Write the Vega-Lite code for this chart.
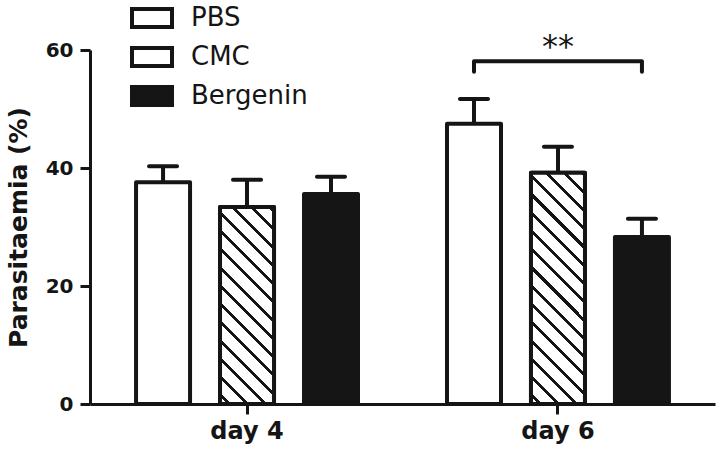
{
  "$schema": "https://vega.github.io/schema/vega-lite/v6.json",
  "width": 625,
  "height": 354,
  "autosize": "none",
  "padding": {"left": 90, "top": 50, "right": 9, "bottom": 53},
  "background": "white",
  "config": {
    "view": {"stroke": null},
    "font": "DejaVu Sans",
    "axis": {
      "domainColor": "#151515",
      "domainWidth": 3,
      "tickColor": "#151515",
      "tickWidth": 3,
      "tickSize": 10,
      "grid": false,
      "labelColor": "#151515",
      "labelFont": "DejaVu Sans",
      "labelFontWeight": "bold",
      "titleColor": "#151515",
      "titleFont": "DejaVu Sans",
      "titleFontWeight": "bold"
    }
  },
  "datasets": {
    "bars": [
      {"day": "day 4", "group": "PBS", "value": 37.6, "upper": 40.3},
      {"day": "day 4", "group": "CMC", "value": 33.4, "upper": 38.0},
      {"day": "day 4", "group": "Bergenin", "value": 35.6, "upper": 38.5},
      {"day": "day 6", "group": "PBS", "value": 47.5, "upper": 51.7},
      {"day": "day 6", "group": "CMC", "value": 39.2, "upper": 43.6},
      {"day": "day 6", "group": "Bergenin", "value": 28.3, "upper": 31.4}
    ],
    "bracket": [
      {"day": "day 6", "group": "PBS", "y": 56.3, "order": 1},
      {"day": "day 6", "group": "PBS", "y": 58.1, "order": 2},
      {"day": "day 6", "group": "Bergenin", "y": 58.1, "order": 3},
      {"day": "day 6", "group": "Bergenin", "y": 56.3, "order": 4}
    ],
    "sig": [
      {"day": "day 6", "group": "CMC", "y": 58.8, "label": "**"}
    ]
  },
  "encoding": {
    "x": {
      "field": "day",
      "type": "nominal",
      "scale": {"domain": ["day 4", "day 6"], "paddingInner": 0, "paddingOuter": 0.005},
      "axis": {"labelAngle": 0, "labelFontSize": 24, "labelPadding": 5, "title": null}
    },
    "xOffset": {
      "field": "group",
      "type": "nominal",
      "scale": {"domain": ["PBS", "CMC", "Bergenin"], "paddingInner": 0.357, "paddingOuter": 0.53}
    }
  },
  "layer": [
    {
      "data": {"name": "bars"},
      "mark": {"type": "rule", "color": "#151515", "strokeWidth": 4},
      "encoding": {
        "y": {
          "field": "value",
          "type": "quantitative",
          "scale": {"domain": [0, 60], "nice": false},
          "axis": {"values": [0, 20, 40, 60], "labelFontSize": 20, "labelPadding": 7, "title": "Parasitaemia (%)", "titleFontSize": 25, "titlePadding": 14}
        },
        "y2": {"field": "upper"}
      }
    },
    {
      "data": {"name": "bars"},
      "mark": {"type": "tick", "color": "#151515", "size": 32, "thickness": 4, "cornerRadius": 2, "opacity": 1},
      "encoding": {
        "y": {"field": "upper", "type": "quantitative"}
      }
    },
    {
      "data": {"name": "bars"},
      "mark": {"type": "bar", "stroke": "#151515", "strokeWidth": 4, "strokeJoin": "round", "opacity": 1},
      "encoding": {
        "y": {"field": "value", "type": "quantitative"},
        "fill": {
          "field": "group",
          "type": "nominal",
          "scale": {"domain": ["PBS", "CMC", "Bergenin"], "range": ["white", "white", "#151515"]},
          "legend": {
            "title": null,
            "orient": "none",
            "legendX": 40,
            "legendY": -54,
            "symbolType": "M-1,-0.45H1V0.45H-1Z",
            "symbolSize": 1600,
            "symbolStrokeColor": "#151515",
            "symbolStrokeWidth": 4,
            "labelFont": "DejaVu Sans",
            "labelFontSize": 26,
            "labelColor": "#151515",
            "labelOffset": 17,
            "rowPadding": -1,
            "padding": 0,
            "encode": {
              "symbols": {
                "shape": {"value": {"expr": "datum.value === 'CMC' ? 'M-1,-0.45H1V0.45H-1Z M-0.95,-0.45L-0.05,0.45 M-0.15,-0.45L0.75,0.45 M0.55,-0.45L1,0' : 'M-1,-0.45H1V0.45H-1Z'"}},
                "strokeJoin": {"value": "round"}
              }
            }
          }
        }
      }
    },
    {
      "data": {"name": "bars"},
      "transform": [{"filter": "datum.group === 'CMC' && datum.day === 'day 4'"}],
      "mark": {
        "type": "bar",
        "stroke": "#151515",
        "strokeWidth": 4,
        "strokeJoin": "round",
        "opacity": 1,
        "fill": {
          "gradient": "linear",
          "x1": 0, "y1": 1, "x2": 0.3305, "y2": -0.2059,
          "stops": [
            {"offset": 0, "color": "white"},
            {"offset": 0.0275, "color": "white"}, {"offset": 0.0275, "color": "#151515"}, {"offset": 0.0439, "color": "#151515"}, {"offset": 0.0439, "color": "white"},
            {"offset": 0.0989, "color": "white"}, {"offset": 0.0989, "color": "#151515"}, {"offset": 0.1154, "color": "#151515"}, {"offset": 0.1154, "color": "white"},
            {"offset": 0.1704, "color": "white"}, {"offset": 0.1704, "color": "#151515"}, {"offset": 0.1868, "color": "#151515"}, {"offset": 0.1868, "color": "white"},
            {"offset": 0.2418, "color": "white"}, {"offset": 0.2418, "color": "#151515"}, {"offset": 0.2582, "color": "#151515"}, {"offset": 0.2582, "color": "white"},
            {"offset": 0.3132, "color": "white"}, {"offset": 0.3132, "color": "#151515"}, {"offset": 0.3296, "color": "#151515"}, {"offset": 0.3296, "color": "white"},
            {"offset": 0.3846, "color": "white"}, {"offset": 0.3846, "color": "#151515"}, {"offset": 0.4011, "color": "#151515"}, {"offset": 0.4011, "color": "white"},
            {"offset": 0.4561, "color": "white"}, {"offset": 0.4561, "color": "#151515"}, {"offset": 0.4725, "color": "#151515"}, {"offset": 0.4725, "color": "white"},
            {"offset": 0.5275, "color": "white"}, {"offset": 0.5275, "color": "#151515"}, {"offset": 0.5439, "color": "#151515"}, {"offset": 0.5439, "color": "white"},
            {"offset": 0.5989, "color": "white"}, {"offset": 0.5989, "color": "#151515"}, {"offset": 0.6154, "color": "#151515"}, {"offset": 0.6154, "color": "white"},
            {"offset": 0.6704, "color": "white"}, {"offset": 0.6704, "color": "#151515"}, {"offset": 0.6868, "color": "#151515"}, {"offset": 0.6868, "color": "white"},
            {"offset": 0.7418, "color": "white"}, {"offset": 0.7418, "color": "#151515"}, {"offset": 0.7582, "color": "#151515"}, {"offset": 0.7582, "color": "white"},
            {"offset": 0.8132, "color": "white"}, {"offset": 0.8132, "color": "#151515"}, {"offset": 0.8296, "color": "#151515"}, {"offset": 0.8296, "color": "white"},
            {"offset": 0.8846, "color": "white"}, {"offset": 0.8846, "color": "#151515"}, {"offset": 0.9011, "color": "#151515"}, {"offset": 0.9011, "color": "white"},
            {"offset": 0.9561, "color": "white"}, {"offset": 0.9561, "color": "#151515"}, {"offset": 0.9725, "color": "#151515"}, {"offset": 0.9725, "color": "white"},
            {"offset": 1, "color": "white"}
          ]
        }
      },
      "encoding": {
        "y": {"field": "value", "type": "quantitative"}
      }
    },
    {
      "data": {"name": "bars"},
      "transform": [{"filter": "datum.group === 'CMC' && datum.day === 'day 6'"}],
      "mark": {
        "type": "bar",
        "stroke": "#151515",
        "strokeWidth": 4,
        "strokeJoin": "round",
        "opacity": 1,
        "fill": {
          "gradient": "linear",
          "x1": 0, "y1": 1, "x2": 0.2801, "y2": -0.1982,
          "stops": [
            {"offset": 0, "color": "white"},
            {"offset": 0.0241, "color": "white"}, {"offset": 0.0241, "color": "#151515"}, {"offset": 0.0384, "color": "#151515"}, {"offset": 0.0384, "color": "white"},
            {"offset": 0.0866, "color": "white"}, {"offset": 0.0866, "color": "#151515"}, {"offset": 0.1009, "color": "#151515"}, {"offset": 0.1009, "color": "white"},
            {"offset": 0.1491, "color": "white"}, {"offset": 0.1491, "color": "#151515"}, {"offset": 0.1634, "color": "#151515"}, {"offset": 0.1634, "color": "white"},
            {"offset": 0.2116, "color": "white"}, {"offset": 0.2116, "color": "#151515"}, {"offset": 0.2259, "color": "#151515"}, {"offset": 0.2259, "color": "white"},
            {"offset": 0.2741, "color": "white"}, {"offset": 0.2741, "color": "#151515"}, {"offset": 0.2884, "color": "#151515"}, {"offset": 0.2884, "color": "white"},
            {"offset": 0.3366, "color": "white"}, {"offset": 0.3366, "color": "#151515"}, {"offset": 0.3509, "color": "#151515"}, {"offset": 0.3509, "color": "white"},
            {"offset": 0.3991, "color": "white"}, {"offset": 0.3991, "color": "#151515"}, {"offset": 0.4134, "color": "#151515"}, {"offset": 0.4134, "color": "white"},
            {"offset": 0.4616, "color": "white"}, {"offset": 0.4616, "color": "#151515"}, {"offset": 0.4759, "color": "#151515"}, {"offset": 0.4759, "color": "white"},
            {"offset": 0.5241, "color": "white"}, {"offset": 0.5241, "color": "#151515"}, {"offset": 0.5384, "color": "#151515"}, {"offset": 0.5384, "color": "white"},
            {"offset": 0.5866, "color": "white"}, {"offset": 0.5866, "color": "#151515"}, {"offset": 0.6009, "color": "#151515"}, {"offset": 0.6009, "color": "white"},
            {"offset": 0.6491, "color": "white"}, {"offset": 0.6491, "color": "#151515"}, {"offset": 0.6634, "color": "#151515"}, {"offset": 0.6634, "color": "white"},
            {"offset": 0.7116, "color": "white"}, {"offset": 0.7116, "color": "#151515"}, {"offset": 0.7259, "color": "#151515"}, {"offset": 0.7259, "color": "white"},
            {"offset": 0.7741, "color": "white"}, {"offset": 0.7741, "color": "#151515"}, {"offset": 0.7884, "color": "#151515"}, {"offset": 0.7884, "color": "white"},
            {"offset": 0.8366, "color": "white"}, {"offset": 0.8366, "color": "#151515"}, {"offset": 0.8509, "color": "#151515"}, {"offset": 0.8509, "color": "white"},
            {"offset": 0.8991, "color": "white"}, {"offset": 0.8991, "color": "#151515"}, {"offset": 0.9134, "color": "#151515"}, {"offset": 0.9134, "color": "white"},
            {"offset": 0.9616, "color": "white"}, {"offset": 0.9616, "color": "#151515"}, {"offset": 0.9759, "color": "#151515"}, {"offset": 0.9759, "color": "white"},
            {"offset": 1, "color": "white"}
          ]
        }
      },
      "encoding": {
        "y": {"field": "value", "type": "quantitative"}
      }
    },
    {
      "data": {"name": "bracket"},
      "mark": {"type": "line", "color": "#151515", "strokeWidth": 4, "strokeCap": "round", "strokeJoin": "round"},
      "encoding": {
        "y": {"field": "y", "type": "quantitative"},
        "order": {"field": "order", "type": "quantitative"}
      }
    },
    {
      "data": {"name": "sig"},
      "mark": {"type": "text", "font": "DejaVu Sans", "fontSize": 32, "color": "#151515", "baseline": "alphabetic", "align": "center"},
      "encoding": {
        "y": {"field": "y", "type": "quantitative"},
        "text": {"field": "label"}
      }
    }
  ]
}
